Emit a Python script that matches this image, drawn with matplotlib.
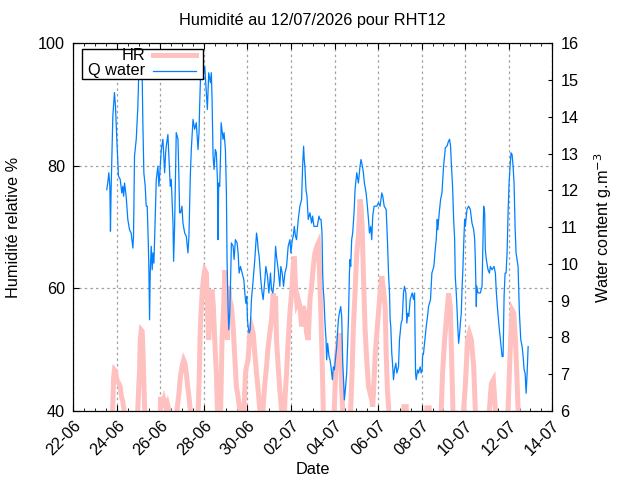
import matplotlib
matplotlib.use("Agg")
import matplotlib.pyplot as plt
import matplotlib.dates as mdates
from matplotlib.patches import Rectangle
from matplotlib.lines import Line2D
import numpy as np
import pandas as pd

plt.rcParams['font.family'] = ['Liberation Sans', 'DejaVu Sans']
FS = 11.7
plt.rcParams['font.size'] = FS

start = pd.Timestamp('2026-06-22 00:00')
x_min = pd.Timestamp('2026-06-22')
x_max = pd.Timestamp('2026-07-14')

# Q water (g/m3): hours since 22-06 00:00, value
q_hours = [36.9, 38.0, 39.2, 40.3, 41.0, 41.7, 42.8, 43.6, 45.4, 46.5, 48.0, 49.8, 51.7, 53.5, 54.6, 55.5,
           56.5, 58.3, 60.1, 62.0, 63.8, 65.7, 66.4, 67.5, 69.4, 71.2, 72.3, 74.5, 76.0, 76.7, 77.8, 79.3,
           80.4, 81.5, 82.6, 83.3, 84.1, 84.8, 85.9, 87.0, 87.8, 88.9, 90.3, 91.5, 93.3, 94.4, 95.9, 97.0,
           98.8, 100.7, 101.8, 102.5, 104.3, 106.2, 106.9, 108.0, 109.9, 110.6, 111.7, 113.5, 115.4, 116.5,
           117.2, 118.3, 119.8, 120.9, 122.8, 124.6, 126.4, 127.5, 129.0, 130.1, 132.0, 133.8, 135.6, 137.5,
           138.6, 139.3, 140.4, 142.3, 144.9, 147.8, 149.3, 151.1, 152.2, 153.0, 154.1, 155.2, 156.6, 157.7,
           158.9, 159.6, 160.3, 161.4, 162.5, 163.0, 165.1, 166.2, 167.7, 168.8, 169.5, 170.6, 171.4, 172.5,
           173.6, 174.3, 176.2, 177.3, 178.7, 180.6, 181.7, 182.8, 184.3, 186.1, 188.0, 189.1, 190.2, 191.3,
           192.0, 192.7, 193.8, 195.0, 196.4, 198.3, 200.1, 202.0, 203.0, 203.8, 204.9, 206.7, 208.2, 209.3,
           211.2, 212.3, 214.1, 215.6, 217.4, 218.5, 220.0, 221.5, 223.0, 224.0, 225.9, 227.7, 228.8, 230.3,
           231.8, 233.3, 235.1, 236.9, 238.8, 239.9, 241.4, 242.5, 243.6, 245.0, 246.1, 248.0, 249.8, 251.7,
           252.8, 253.9, 254.6, 255.3, 256.5, 257.6, 259.0, 260.9, 262.7, 263.8, 265.3, 267.1, 268.6, 269.0,
           270.8, 271.9, 273.1, 274.2, 274.9, 275.6, 276.4, 277.5, 278.6, 279.3, 280.4, 281.9, 283.0, 284.1,
           285.6, 286.7, 287.8, 288.9, 290.4, 292.2, 293.3, 294.8, 295.9, 297.0, 298.1, 298.8, 299.9, 301.4,
           303.3, 304.4, 305.1, 305.8, 306.9, 308.0, 309.5, 310.6, 312.5, 314.3, 316.1, 317.2, 318.7, 319.8,
           320.9, 322.8, 324.2, 325.4, 326.5, 327.9, 329.0, 330.1, 331.6, 332.7, 334.6, 336.4, 338.2, 340.1,
           341.2, 342.7, 344.9, 346.3, 347.5, 348.6, 349.3, 350.0, 351.1, 351.9, 353.0, 354.1, 355.6, 356.7,
           358.5, 359.6, 360.3, 361.4, 362.6, 364.0, 365.1, 366.6, 367.7, 368.8, 369.9, 371.4, 372.5, 373.6,
           375.1, 376.2, 377.3, 378.0, 379.5, 380.6, 382.4, 383.5, 384.6, 385.0, 386.1, 389.1, 390.5, 391.6,
           393.8, 395.3, 397.5, 399.0, 400.1, 401.2, 401.9, 403.4, 404.9, 406.4, 408.2, 409.3, 410.1, 411.9,
           413.7, 414.8, 415.9, 416.7, 418.1, 419.3, 420.4, 421.1, 422.2, 422.9, 424.0, 424.8, 425.9, 427.0,
           427.7, 428.5, 429.6, 430.3, 431.4, 432.1, 434.0, 435.8, 437.7, 439.5, 441.4, 442.5, 443.2, 444.3,
           444.7, 446.1, 448.7, 450.6, 451.7, 452.4, 453.5, 454.2, 455.3, 457.2, 458.7, 459.8, 461.6, 463.8,
           465.3, 466.4, 467.5, 469.0, 470.1, 471.6, 472.7, 473.8, 474.9, 476.0, 477.1, 478.2, 479.3, 480.4,
           481.5, 482.6, 483.7, 484.8, 485.9, 487.0, 488.1, 489.2, 490.3, 491.8, 493.3, 494.8, 495.9, 497.0,
           498.1, 499.2, 500.3, 501.4]
q_values = [12.02, 12.20, 12.48, 12.11, 10.89, 12.02, 13.20, 14.02, 14.66, 14.29, 13.39, 12.39, 12.30, 11.93, 12.11, 11.84,
            12.20, 11.84, 11.21, 10.93, 10.84, 10.43, 10.75, 12.93, 13.39, 14.29, 15.29, 15.40, 15.02, 13.84, 12.48, 12.11,
            11.57, 11.57, 10.66, 9.93, 8.48, 9.75, 10.48, 9.84, 10.30, 10.02, 11.30, 12.30, 12.66, 12.11, 12.66, 13.11,
            13.39, 12.48, 13.02, 13.20, 13.52, 12.48, 12.11, 12.30, 11.11, 10.07, 11.02, 13.57, 13.39, 12.30,
            11.39, 11.39, 11.57, 11.11, 10.84, 10.75, 10.30, 10.75, 12.39, 13.11, 13.93, 13.66, 13.84, 13.11,
            13.57, 14.29, 15.20, 15.02, 15.38, 14.20, 15.20, 14.93, 15.20, 14.47, 12.93, 12.57, 13.11, 13.02,
            12.30, 10.66, 12.20, 12.11, 13.11, 13.84, 13.39, 13.57, 13.11, 11.93, 10.12, 8.84, 8.21, 8.66,
            9.75, 10.57, 10.48, 10.12, 10.66, 10.57, 10.30, 9.75, 9.93, 9.75, 9.57, 9.21, 8.93, 9.12,
            8.48, 8.30, 8.12, 8.21, 9.03, 9.57, 10.12, 10.84, 10.66, 10.39, 10.21, 9.57, 9.21, 9.03,
            9.57, 9.93, 9.66, 9.21, 9.75, 9.30, 9.21, 9.57, 10.48, 10.21, 9.84, 9.39, 9.93, 9.75,
            9.39, 9.75, 9.93, 10.48, 10.66, 10.30, 10.66, 10.75, 11.02, 10.75, 10.66, 11.21, 11.57, 11.75,
            12.66, 13.20, 12.84, 12.66, 12.02, 11.84, 11.21, 11.39, 11.11, 11.30, 11.02, 11.02, 11.02, 11.02,
            11.30, 11.21, 11.21, 10.84, 9.75, 9.30, 9.03, 8.39, 7.94, 7.39, 7.84, 7.48, 7.39, 7.20,
            6.85, 7.20, 7.12, 7.39, 7.75, 8.48, 8.66, 8.84, 8.57, 7.30, 6.75, 6.30, 6.57, 7.03,
            8.48, 9.75, 10.12, 9.93, 10.66, 10.84, 11.39, 12.02, 12.48, 12.20, 12.66, 12.84, 12.66, 12.48,
            12.20, 11.93, 11.57, 11.21, 10.84, 11.02, 10.66, 11.30, 11.57, 11.57, 11.57, 11.66, 11.57, 11.93,
            11.84, 11.57, 11.48, 10.66, 9.75, 9.21, 8.48, 8.30, 7.57, 7.30, 6.85, 7.12, 7.30, 7.03,
            7.20, 7.94, 8.12, 8.39, 8.48, 9.21, 9.39, 9.21, 8.39, 8.66, 8.57, 9.03, 9.12, 9.21,
            9.03, 9.21, 7.03, 6.85, 7.12, 7.03, 7.20, 7.03, 7.12, 7.48, 7.57, 8.30, 8.57, 8.84,
            9.03, 9.75, 9.93, 10.39, 10.66, 11.21, 10.93, 11.39, 11.75, 11.93, 12.66, 12.93, 13.16, 13.20,
            13.34, 13.39, 13.20, 12.75, 12.11, 11.21, 10.66, 9.66, 9.20, 8.84, 8.21, 7.84, 8.12, 8.48,
            8.66, 9.30, 9.93, 10.48, 11.21, 11.02, 11.48, 11.57, 11.48, 11.11, 10.93, 10.66, 10.12, 8.84,
            9.40, 9.21, 9.21, 9.39, 10.66, 11.57, 11.39, 10.39, 10.12, 9.84, 9.75, 9.93, 9.84, 9.93,
            9.75, 9.21, 8.84, 8.39, 8.12, 7.75, 7.48, 7.48, 9.12, 9.75, 9.75, 10.30, 11.39, 12.20,
            12.66, 13.02, 12.98, 12.66, 12.20, 11.02, 10.30, 10.12, 9.93, 8.66, 7.94, 7.75, 7.48, 7.12,
            7.03, 6.48, 7.03, 7.75]

# Relative humidity (%): hours since 22-06 00:00, value (values < 40 fall below the axis)
hr_hours = [36.9, 42.8, 43.6, 44.5, 45.4, 46.5, 48.0, 50.2, 51.7, 53.2, 54.6, 55.8, 56.8, 69.5, 71.2, 72.3,
            73.0, 73.8, 74.9, 76.0, 76.7, 77.5, 78.6, 79.7, 95.5, 96.3, 98.1, 99.9, 101.8, 103.6, 105.4, 106.5,
            113.3, 114.7, 116.5, 118.0, 119.8, 121.7, 123.1, 124.6, 126.1, 127.5, 129.0, 130.1, 136.4, 137.9,
            139.0, 139.7, 140.4, 142.3, 143.8, 144.9, 146.7, 147.8, 149.3, 151.5, 153.0, 154.4, 155.9, 157.7,
            158.9, 159.6, 161.8, 162.5, 164.0, 165.8, 167.0, 168.1, 169.9, 171.4, 172.5, 174.3, 176.2, 178.0,
            179.8, 181.7, 183.5, 185.4, 187.6, 188.3, 189.8, 190.9, 192.7, 194.6, 196.4, 198.3, 200.1, 202.0,
            203.8, 205.6, 206.8, 208.2, 209.3, 211.2, 213.0, 214.8, 216.7, 218.5, 220.4, 221.5, 223.0, 224.0,
            225.9, 227.7, 229.6, 230.6, 232.2, 233.3, 235.1, 236.9, 238.8, 240.6, 242.5, 243.6, 245.0, 246.5,
            248.0, 249.8, 251.7, 253.5, 255.3, 257.2, 259.0, 260.9, 262.7, 264.6, 266.4, 268.6, 270.1, 271.2,
            272.7, 274.2, 275.6, 276.4, 286.7, 287.8, 288.9, 290.4, 292.2, 293.3, 294.8, 295.9, 297.0, 297.7,
            305.1, 305.8, 307.3, 308.8, 310.6, 312.5, 314.3, 316.1, 317.2, 318.4, 319.8, 321.7, 323.5, 325.4,
            327.2, 329.0, 330.1, 330.9, 332.7, 334.6, 336.4, 338.2, 340.1, 341.9, 343.8, 344.9, 346.3, 347.8,
            348.6, 363.3, 364.4, 367.0, 367.7, 389.1, 389.8, 392.4, 393.5, 404.5, 405.6, 407.1, 409.3, 411.9,
            413.7, 415.6, 417.4, 418.5, 419.3, 429.6, 430.3, 432.1, 434.7, 436.6, 438.8, 441.4, 443.2, 443.9,
            457.9, 458.7, 460.9, 463.1, 465.3, 466.0, 478.2, 479.3, 481.5, 483.7, 485.5, 487.4, 489.2, 490.3,
            491.1, 501.4]
hr_values = [36, 37.5, 41.5, 45.5, 46.7, 46.5, 45.1, 44.5, 44.0, 42.3, 41.5, 40.2, 37, 37, 40.5, 44.5,
             46.2, 51.6, 53.2, 53.0, 50.5, 46.2, 40.7, 37, 37, 42.3, 40.7, 41.8, 40.7, 41.3, 40.2, 37,
             37, 40.7, 42.9, 45.5, 47.2, 48.3, 47.8, 46.2, 44.0, 42.3, 40.2, 37, 37, 40.7,
             46.5, 51.6, 54.9, 59.8, 62.0, 63.0, 62.5, 57.1, 51.6, 58.7, 59.8, 57.1, 51.6, 46.2,
             40.7, 37, 37, 40.7, 51.6, 57.1, 63.0, 57.1, 51.6, 60.3, 58.2, 57.1, 53.8, 48.9,
             44.0, 42.3, 40.2, 37, 37, 40.7, 46.2, 47.2, 48.3, 52.7, 53.8, 52.7, 49.4, 46.2,
             43.4, 40.2, 37, 37, 40.7, 44.5, 47.2, 50.5, 52.7, 54.9, 59.2, 57.1, 58.7, 51.6,
             47.2, 43.4, 40.2, 37, 37, 41.8, 46.2, 51.6, 56.0, 59.2, 63.6, 65.2, 60.3, 57.6,
             58.2, 57.1, 53.8, 57.1, 56.0, 52.7, 51.6, 58.2, 60.3, 63.6, 65.8, 66.9, 67.4, 63.6,
             57.1, 48.9, 40.2, 37, 37, 40.5, 45.1, 49.4, 51.6, 52.7, 48.3, 43.4, 40.2, 37,
             37, 40.2, 46.2, 53.8, 59.2, 65.8, 68.5, 74.5, 73.4, 70.1, 62.5, 53.2, 48.3, 44.0,
             42.9, 41.8, 40.7, 42.9, 48.9, 52.7, 56.0, 59.2, 62.0, 59.8, 57.1, 49.4, 43.4, 40.2,
             37, 37, 40.7, 40.7, 37, 37, 40.5, 40.5, 37, 37, 40.2, 46.2, 51.6, 56.0,
             59.2, 57.1, 46.2, 40.2, 37, 37, 40.2, 44.0, 51.6, 52.7, 51.6, 47.2, 40.2, 37,
             37, 40.2, 44.5, 45.1, 40.2, 37, 37, 40.2, 49.4, 56.5, 56.0, 51.6, 45.0, 40.2,
             37, 36]

q_time = start + pd.to_timedelta(q_hours, unit='h')
hr_time = start + pd.to_timedelta(hr_hours, unit='h')

pink = '#ffc0c0'
blue = '#0080ff'

fig = plt.figure(figsize=(6.4, 4.8), dpi=100)
ax = fig.add_axes([0.1145, 0.1438, 0.7484, 0.7660])
ax2 = ax.twinx()

ax.plot(hr_time, hr_values, color=pink, lw=3.6, solid_joinstyle='miter')
ax2.plot(q_time, q_values, color=blue, lw=0.9)

ax.set_xlim(x_min, x_max)
ax.set_ylim(40, 100)
ax2.set_ylim(6, 16)
ax.set_yticks([40, 60, 80, 100])
ax2.set_yticks(range(6, 17))

ax.xaxis.set_major_locator(mdates.DayLocator(interval=2))
ax.xaxis.set_minor_locator(mdates.HourLocator(byhour=[0, 12]))
ax.xaxis.set_major_formatter(mdates.DateFormatter('%d-%m'))
for lab in ax.get_xticklabels():
    lab.set_rotation(45)
    lab.set_ha('right')
    lab.set_rotation_mode('anchor')

ax.grid(True, which='major', color='#a0a0a0', linestyle=(0, (2, 2.5)), linewidth=0.9)
ax.tick_params(axis='x', which='both', direction='in', top=True, bottom=True)
ax.tick_params(axis='x', which='major', length=4.5, pad=5)
ax.tick_params(axis='x', which='minor', length=2.5)
ax.tick_params(axis='y', which='both', direction='in', right=False, length=4.5, pad=6)
ax2.tick_params(axis='y', direction='in', length=3, pad=6)
ax.tick_params(labelsize=FS)
ax2.tick_params(labelsize=FS)

ax.set_xlabel('Date', fontsize=FS, labelpad=3)
ax.set_ylabel('Humidité relative %', fontsize=FS, labelpad=12)
ax2.set_ylabel('Water content g.m$^{-3}$', fontsize=FS, labelpad=10)
ax.set_title('Humidité au 12/07/2026 pour RHT12', fontsize=FS, pad=13)

# legend (key box)
tr = ax2.transAxes
ax2.add_patch(Rectangle((0.018, 0.903), 0.253, 0.0815, transform=tr, facecolor='white',
                        edgecolor='black', lw=1, zorder=10))
ax2.text(0.1497, 0.968, 'HR', transform=tr, ha='right', va='center', fontsize=FS, zorder=11)
ax2.text(0.1497, 0.9255, 'Q water', transform=tr, ha='right', va='center', fontsize=FS, zorder=11)
ax2.add_line(Line2D([0.166, 0.256], [0.968, 0.968], transform=tr, color=pink, lw=3.6, zorder=11))
ax2.add_line(Line2D([0.166, 0.256], [0.9255, 0.9255], transform=tr, color=blue, lw=0.9, zorder=11))

fig.savefig('out.png', dpi=100)
